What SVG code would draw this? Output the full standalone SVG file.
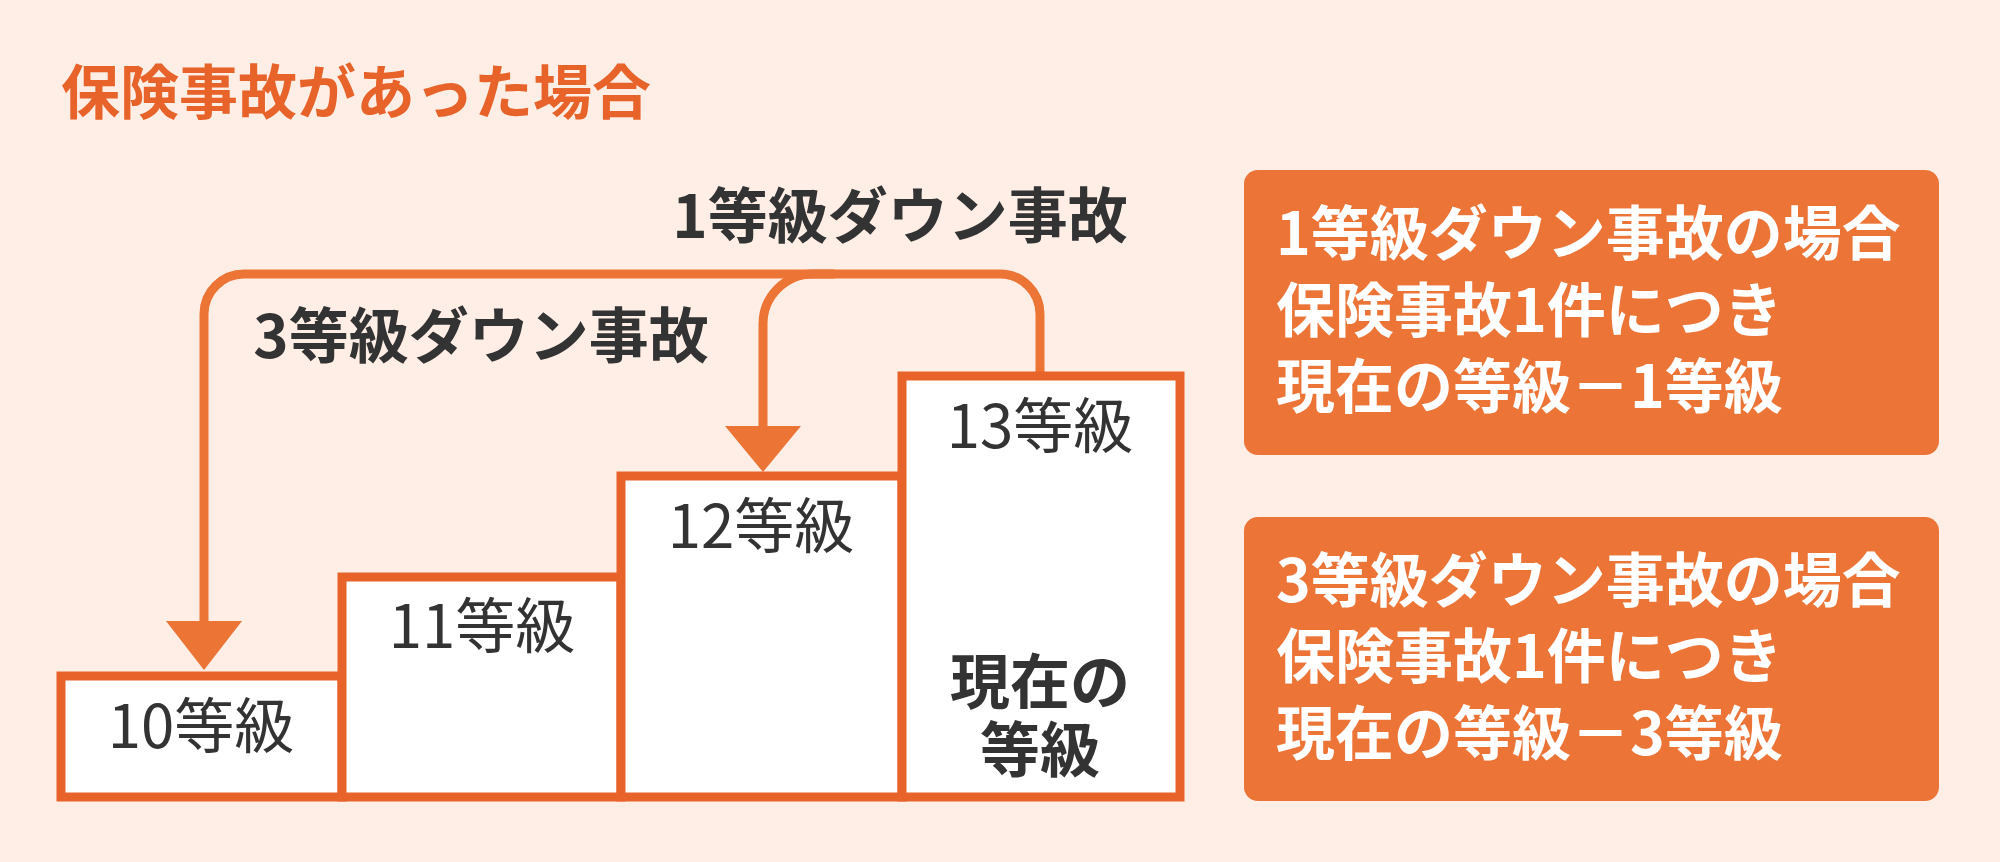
<svg xmlns="http://www.w3.org/2000/svg" width="2000" height="862" viewBox="0 0 2000 862">
<style>
.box{fill:#fff;stroke:#E8632A;stroke-width:9}
.lbl{font-family:"Noto Sans CJK JP",sans-serif;font-size:60px;fill:#333;text-anchor:middle}
.b{font-weight:bold}
.line{fill:none;stroke:#EC7434;stroke-width:9}
.info{fill:#EB7436}
.it{font-family:"Noto Sans CJK JP",sans-serif;font-size:59px;font-weight:bold;fill:#fff}
</style>
<rect width="2000" height="862" fill="#FFEEE5"/>
<text x="61" y="114" font-family="Noto Sans CJK JP,sans-serif" font-size="59" font-weight="bold" fill="#E8632A">保険事故があった場合</text>
<g id="connectors">
<path class="line" d="M1040 376 V314 A40 40 0 0 0 1000 274 H244 A40 40 0 0 0 204 314 V625"/>
<polygon points="166,621 242,621 204,670" fill="#EC7434"/>
<path class="line" d="M835 274 H813 A50 50 0 0 0 763 324 V430"/>
<polygon points="725,426 801,426 763,472" fill="#EC7434"/>
</g>
<text class="lbl b" x="900" y="238" font-size="61">1等級ダウン事故</text>
<text class="lbl b" x="481" y="358" font-size="61">3等級ダウン事故</text>
<g id="n10"><rect class="box" x="61" y="676" width="281" height="121"/><text class="lbl" x="201" y="748">10等級</text></g>
<g id="n11"><rect class="box" x="342" y="577" width="279" height="220"/><text class="lbl" x="482" y="648">11等級</text></g>
<g id="n12"><rect class="box" x="621" y="476" width="281" height="321"/><text class="lbl" x="761" y="548">12等級</text></g>
<g id="n13"><rect class="box" x="902" y="376" width="278" height="421"/><text class="lbl" x="1040" y="448">13等級</text>
<text class="lbl b" x="1040" y="704" font-size="57">現在の</text><text class="lbl b" x="1040" y="772" font-size="57">等級</text></g>
<g id="info1"><rect class="info" x="1244" y="170" width="695" height="285" rx="14"/>
<text class="it" x="1276" y="255">1等級ダウン事故の場合</text>
<text class="it" x="1276" y="332">保険事故1件につき</text>
<text class="it" x="1276" y="408">現在の等級－1等級</text></g>
<g id="info2"><rect class="info" x="1244" y="517" width="695" height="284" rx="14"/>
<text class="it" x="1276" y="602">3等級ダウン事故の場合</text>
<text class="it" x="1276" y="678">保険事故1件につき</text>
<text class="it" x="1276" y="755">現在の等級－3等級</text></g>
</svg>
